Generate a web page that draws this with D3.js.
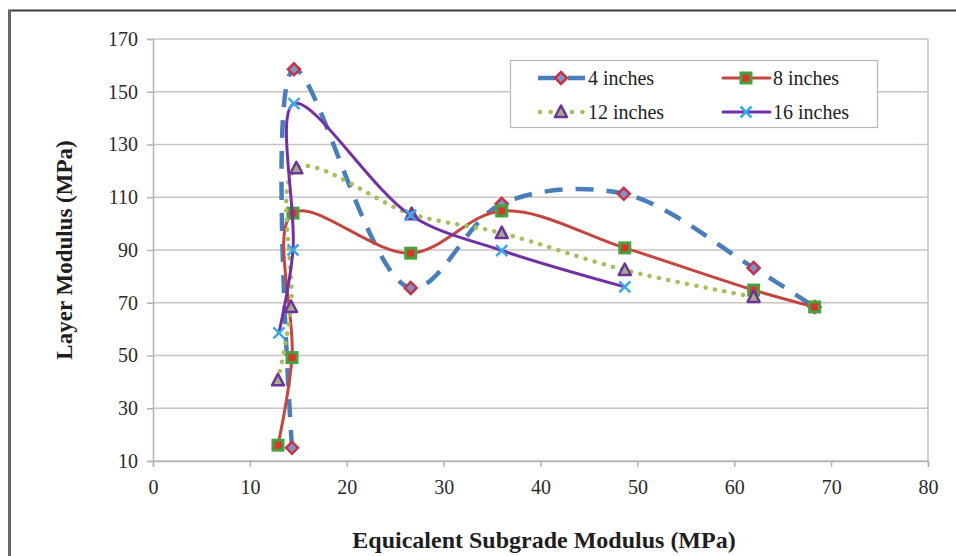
<!DOCTYPE html>
<html>
<head>
<meta charset="utf-8">
<script src="https://cdn.jsdelivr.net/npm/d3@7/dist/d3.min.js"></script>
<style>
  html, body { margin: 0; padding: 0; background: #fff; }
  svg { display: block; font-family: "Liberation Serif", "Times New Roman", serif; }
</style>
</head>
<body>
<svg id="chart" width="956" height="556"></svg>
<script>
// Layer modulus vs. equivalent subgrade modulus for four layer thicknesses
const seriesNames = ["4 inches", "8 inches", "12 inches", "16 inches"];

const x4  = [14.35, 14.55, 26.6, 36.0, 48.6, 62.0, 68.3];
const y4  = [15.0, 158.5, 75.6, 107.5, 111.3, 83.2, 68.4];

const x8  = [12.9, 14.35, 14.45, 26.6, 36.0, 48.7, 62.0, 68.3];
const y8  = [16.0, 49.2, 104.0, 88.8, 104.8, 90.8, 74.8, 68.4];

const x12 = [12.9, 14.25, 14.8, 26.7, 36.0, 48.7, 62.0];
const y12 = [40.6, 68.4, 121.0, 103.6, 96.4, 82.4, 72.2];

const x16 = [13.0, 14.45, 14.55, 26.6, 36.0, 48.7];
const y16 = [58.6, 90.0, 145.5, 103.2, 89.8, 76.0];

const xTicks = [0, 10, 20, 30, 40, 50, 60, 70, 80];
const yTicks = [10, 30, 50, 70, 90, 110, 130, 150, 170];

const xTitle = "Equicalent Subgrade Modulus (MPa)";
const yTitle = "Layer Modulus (MPa)";

const serif = "'Liberation Serif', 'Times New Roman', serif";
const svg = d3.select("#chart");
const plot = { left: 153, right: 928, top: 39, bottom: 461 };

const x = d3.scaleLinear().domain([0, 80]).range([plot.left, plot.right]);
const y = d3.scaleLinear().domain([10, 170]).range([plot.bottom, plot.top]);

// outer frame (top and left edges)
svg.append("line").attr("x1", 8).attr("x2", 956).attr("y1", 10.5).attr("y2", 10.5)
  .attr("stroke", "#3d3d3d").attr("stroke-width", 2);
svg.append("line").attr("x1", 9.5).attr("x2", 9.5).attr("y1", 10).attr("y2", 556)
  .attr("stroke", "#666").attr("stroke-width", 3);

// gridlines
const gridColor = "#cbc2c2";
svg.append("g").selectAll("line").data(yTicks).join("line")
  .attr("x1", plot.left).attr("x2", plot.right)
  .attr("y1", d => y(d)).attr("y2", d => y(d))
  .attr("stroke", gridColor).attr("stroke-width", 1.6);
svg.append("line").attr("x1", plot.right).attr("x2", plot.right)
  .attr("y1", plot.top).attr("y2", plot.bottom)
  .attr("stroke", gridColor).attr("stroke-width", 1.6);

// axes
const axisColor = "#b9b0b0";
const gx = svg.append("g").attr("transform", `translate(0,${plot.bottom})`)
  .call(d3.axisBottom(x).tickValues(xTicks).tickSize(6).tickPadding(8).tickFormat(d3.format("d")));
const gy = svg.append("g").attr("transform", `translate(${plot.left},0)`)
  .call(d3.axisLeft(y).tickValues(yTicks).tickSize(6).tickPadding(9).tickFormat(d3.format("d")));
[gx, gy].forEach(g => {
  g.attr("font-family", serif).attr("font-size", 20);
  g.select(".domain").attr("stroke", axisColor).attr("stroke-width", 1.5);
  g.selectAll(".tick line").attr("stroke", axisColor).attr("stroke-width", 1.5);
  g.selectAll(".tick text").attr("fill", "#2a2a2a");
});
gx.selectAll(".tick text").attr("dy", "0.95em");

// axis titles
svg.append("text").attr("x", 544).attr("y", 548).attr("text-anchor", "middle")
  .attr("font-weight", "bold").attr("font-size", 24).attr("fill", "#1e1e1e").text(xTitle);
svg.append("text").attr("transform", "translate(72,250) rotate(-90)").attr("text-anchor", "middle")
  .attr("font-weight", "bold").attr("font-size", 23).attr("fill", "#1e1e1e").text(yTitle);

// series styling
const styles = [
  { line: "#4a7ebb", width: 4.5, dash: "18 13", cap: "butt", marker: "diamond", fill: "#7f92c4", mstroke: "#c63246" },
  { line: "#c4473f", width: 3,   dash: null,    cap: "round", marker: "square",  fill: "#d5362e", mstroke: "#46a23c" },
  { line: "#a6bf5e", width: 4.5, dash: "0.1 9.4", cap: "round", marker: "triangle", fill: "#a9a893", mstroke: "#6b3597" },
  { line: "#7231a3", width: 3,   dash: null,    cap: "round", marker: "cross",   fill: "none",    mstroke: "#3aa8e6" }
];
const xs = [x4, x8, x12, x16];
const ys = [y4, y8, y12, y16];

const lineGen = d3.line().x(d => x(d[0])).y(d => y(d[1])).curve(d3.curveCatmullRom.alpha(0.5));

function drawMarker(g, kind, cx, cy, st) {
  if (kind === "diamond") {
    g.append("path").attr("d", `M${cx},${cy - 6}L${cx + 6},${cy}L${cx},${cy + 6}L${cx - 6},${cy}Z`)
      .attr("fill", st.fill).attr("stroke", st.mstroke).attr("stroke-width", 2.5);
  } else if (kind === "square") {
    g.append("rect").attr("x", cx - 5).attr("y", cy - 5).attr("width", 10).attr("height", 10)
      .attr("fill", st.fill).attr("stroke", st.mstroke).attr("stroke-width", 3);
  } else if (kind === "triangle") {
    g.append("path").attr("d", `M${cx},${cy - 6.5}L${cx + 6},${cy + 5}L${cx - 6},${cy + 5}Z`)
      .attr("fill", st.fill).attr("stroke", st.mstroke).attr("stroke-width", 2.5).attr("stroke-linejoin", "round");
  } else {
    g.append("path").attr("d", `M${cx - 5.5},${cy - 5.5}L${cx + 5.5},${cy + 5.5}M${cx - 5.5},${cy + 5.5}L${cx + 5.5},${cy - 5.5}`)
      .attr("stroke", st.mstroke).attr("stroke-width", 2.5);
  }
}

seriesNames.forEach((name, i) => {
  const st = styles[i];
  const pts = xs[i].map((v, j) => [v, ys[i][j]]);
  const g = svg.append("g");
  g.append("path").datum(pts).attr("d", lineGen)
    .attr("fill", "none").attr("stroke", st.line).attr("stroke-width", st.width)
    .attr("stroke-linecap", st.cap).attr("stroke-dasharray", st.dash);
  pts.forEach(p => drawMarker(g, st.marker, x(p[0]), y(p[1]), st));
});

// legend
const lg = svg.append("g");
lg.append("rect").attr("x", 510.5).attr("y", 60.5).attr("width", 367).attr("height", 67)
  .attr("fill", "#fff").attr("stroke", "#bdb6b6").attr("stroke-width", 1.2);
const legendPos = [[538, 78], [723, 78], [538, 112], [723, 112]];
seriesNames.forEach((name, i) => {
  const st = styles[i];
  const [lx, ly] = legendPos[i];
  lg.append("line").attr("x1", lx).attr("x2", lx + 47).attr("y1", ly).attr("y2", ly)
    .attr("stroke", st.line).attr("stroke-width", st.width)
    .attr("stroke-linecap", st.cap).attr("stroke-dasharray", i === 0 ? "17 13" : (i === 2 ? "0.1 10.5" : null))
    .attr("stroke-dashoffset", i === 2 ? -2 : 0);
  drawMarker(lg, st.marker, lx + 23, ly, st);
  lg.append("text").attr("x", lx + 50).attr("y", ly + 7).attr("font-size", 20)
    .attr("font-family", serif).attr("fill", "#222").text(name);
});
</script>
</body>
</html>
